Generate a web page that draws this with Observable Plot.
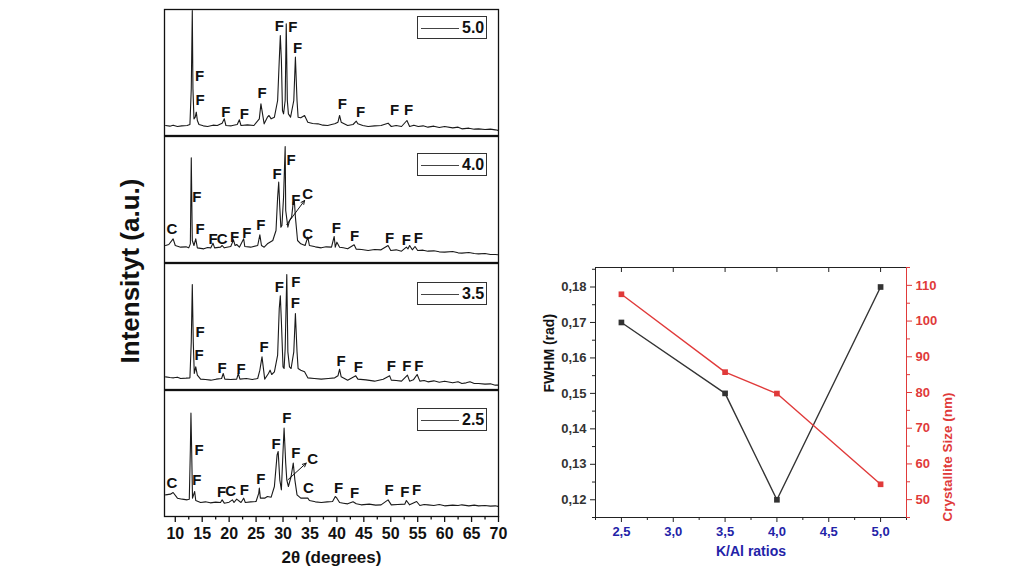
<!DOCTYPE html>
<html>
<head>
<meta charset="utf-8">
<script src="https://cdn.jsdelivr.net/npm/d3@7"></script>
<script src="https://cdn.jsdelivr.net/npm/@observablehq/plot@0.6"></script>
<style>
  html, body { margin: 0; padding: 0; background: #fff; }
  body { width: 1024px; height: 576px; position: relative; overflow: hidden; font-family: "Liberation Sans", Arial, sans-serif; }
  .abs { position: absolute; }
  .legend { position: absolute; width: 70px; height: 23px; border: 1px solid #333; background: #fff; box-sizing: border-box; }
  .legend .ln { position: absolute; left: 3px; top: 11px; width: 38px; height: 0; border-top: 1px solid #444; }
  .legend .tx { position: absolute; left: 44px; top: 2px; font: bold 16px "Liberation Sans", Arial, sans-serif; color: #111; }
  #ylab { position: absolute; left: 130px; top: 271px; transform: translate(-50%, -50%) rotate(-90deg); font: bold 26px "Liberation Sans", Arial, sans-serif; white-space: nowrap; color: #111; }
</style>
</head>
<body>
<script>
// ---------- XRD patterns: [2θ (deg), intensity (a.u.)] ----------
const ratios = ["5.0", "4.0", "3.5", "2.5"];

const pattern50 = [
  [8.2,30],[9.0,28],[9.6,31],[10.4,27],[11.2,29],[12.2,30],[12.72,33],[12.97,140],[13.16,375],[13.28,140],
  [13.47,50],[13.71,55],[13.9,70],[14.1,45],[14.4,33],[15.2,29],[16.0,27],[17.0,31],[17.8,30],[18.7,37],
  [19.1,50],[19.4,30],[20.4,29],[21.5,33],[21.9,47],[22.2,30],[23.4,32],[24.6,30],[25.6,50],[25.9,95],
  [26.2,65],[26.5,35],[27.1,55],[27.4,60],[27.8,50],[28.4,55],[29.0,105],[29.3,225],[29.5,300],[29.7,225],
  [29.9,75],[30.1,65],[30.4,105],[30.6,335],[30.8,105],[31.0,65],[31.4,55],[32.0,105],[32.3,235],[32.6,105],
  [32.8,55],[33.3,53],[34.0,60],[34.6,40],[35.5,36],[36.5,35],[37.4,31],[38.3,30],[39.0,33],[39.6,35],
  [40.2,40],[40.5,60],[40.8,40],[42.0,30],[43.0,33],[43.6,43],[43.9,35],[44.8,30],[45.8,27],[47.0,29],
  [48.2,30],[49.5,37],[50.1,27],[51.0,30],[52.0,27],[53.0,45],[53.5,27],[54.3,31],[55.1,27],[56.0,29],
  [56.9,25],[58.0,28],[59.0,24],[60.0,27],[61.5,23],[62.5,25],[63.2,20],[64.5,22],[65.5,19],[66.3,20],
  [67.5,18],[68.5,19],[69.4,17],[70.0,15]
];
const pattern40 = [
  [8.2,51],[8.8,54],[9.6,71],[10.0,51],[11.0,46],[12.0,47],[12.5,44],[12.8,56],[12.97,314],[13.16,66],
  [13.47,51],[13.8,71],[14.1,44],[15.3,41],[16.0,45],[16.6,44],[17.0,58],[17.3,44],[18.4,46],[18.7,51],
  [19.1,44],[20.3,48],[20.8,68],[21.1,51],[21.4,54],[21.9,46],[22.7,71],[22.9,48],[24.0,46],[25.3,51],
  [25.7,83],[26.0,51],[26.5,46],[27.1,56],[28.1,66],[28.7,96],[29.0,196],[29.2,241],[29.4,166],[29.6,106],
  [29.8,111],[30.1,196],[30.4,348],[30.5,156],[30.9,106],[31.2,126],[31.6,136],[31.9,181],[32.1,186],[32.3,136],
  [32.7,66],[33.3,56],[34.1,51],[34.6,76],[34.9,51],[36.0,47],[37.1,44],[38.0,47],[39.0,46],[39.5,78],
  [39.7,46],[40.0,61],[40.5,46],[41.2,44],[42.0,41],[43.2,53],[43.6,40],[44.6,39],[45.8,36],[47.0,39],
  [48.2,38],[49.5,51],[50.0,36],[51.0,38],[52.0,34],[52.9,46],[53.2,41],[53.5,51],[54.0,38],[54.5,48],
  [55.0,36],[56.0,37],[56.9,34],[58.0,35],[59.0,32],[60.0,31],[61.5,33],[62.5,29],[63.2,28],[64.5,30],
  [65.5,27],[66.3,26],[67.5,27],[68.5,24],[69.4,24],[70.0,23]
];
const pattern35 = [
  [8.2,38],[9.0,36],[9.7,35],[10.4,37],[11.0,33],[12.0,34],[12.72,35],[12.97,143],[13.16,315],[13.34,143],
  [13.53,48],[13.8,68],[14.1,43],[14.7,31],[15.6,30],[16.6,28],[17.6,31],[18.6,33],[18.9,48],[19.2,31],
  [20.3,30],[21.4,31],[21.7,48],[22.0,31],[23.2,33],[24.3,30],[25.3,33],[25.7,58],[26.1,98],[26.4,58],
  [26.6,31],[27.3,48],[27.6,58],[27.9,45],[28.4,53],[29.0,103],[29.3,243],[29.5,281],[29.7,203],[30.0,68],
  [30.2,63],[30.4,123],[30.7,345],[30.9,113],[31.2,68],[31.5,63],[32.0,113],[32.3,228],[32.6,113],[32.8,63],
  [33.3,58],[34.0,53],[34.6,35],[35.8,33],[37.1,31],[38.4,33],[39.6,35],[40.2,41],[40.5,61],[40.8,38],
  [42.0,28],[43.5,41],[43.9,31],[45.4,29],[47.0,25],[48.6,31],[49.8,41],[50.1,28],[51.0,27],[52.0,25],
  [53.1,43],[53.5,25],[54.2,29],[54.9,45],[55.4,25],[56.2,27],[56.9,23],[58.0,26],[59.0,22],[60.0,25],
  [61.5,20],[62.5,23],[63.2,18],[64.0,20],[64.7,23],[65.5,18],[66.3,18],[67.5,16],[68.5,17],[69.4,13],[70.0,13]
];
const pattern25 = [
  [8.2,65],[9.1,67],[9.6,72],[10.4,55],[11.3,52],[12.2,50],[12.6,52],[12.8,202],[12.91,310],[13.03,210],
  [13.2,55],[13.6,75],[13.8,48],[14.7,42],[15.6,44],[16.5,41],[17.5,43],[18.4,42],[18.7,50],[19.1,40],
  [20.0,43],[20.6,50],[20.9,42],[21.4,52],[22.2,42],[22.7,55],[23.0,42],[24.0,44],[25.0,45],[25.5,70],
  [25.6,85],[25.8,55],[26.6,55],[27.1,60],[27.8,58],[28.4,90],[28.9,185],[29.1,195],[29.4,110],[29.7,80],
  [30.0,195],[30.2,265],[30.5,160],[30.7,110],[31.0,90],[31.5,120],[31.9,160],[32.2,110],[32.6,65],[33.3,55],
  [34.6,55],[34.9,48],[36.0,44],[37.1,42],[38.2,44],[39.2,45],[39.7,60],[40.0,55],[40.5,42],[41.2,40],
  [42.0,38],[43.0,44],[43.6,38],[44.5,35],[46.0,37],[47.2,34],[48.2,35],[49.5,50],[50.1,35],[51.3,36],
  [52.6,37],[52.9,48],[53.5,35],[54.8,45],[55.4,33],[56.2,36],[56.9,35],[58.0,33],[59.0,36],[60.0,32],
  [61.5,34],[62.5,33],[63.2,35],[64.5,32],[65.5,34],[66.3,32],[67.5,33],[68.5,31],[69.4,32],[70.0,30]
];
const patterns = [pattern50, pattern40, pattern35, pattern25];

// phase labels: [2θ, intensity, phase]
const labels50 = [
  [14.5,177,"F"],[14.6,105,"F"],[19.4,69,"F"],[22.8,65,"F"],[26.1,127,"F"],[29.3,327,"F"],[31.8,325,"F"],
  [32.7,263,"F"],[41.0,93,"F"],[44.4,70,"F"],[50.7,75,"F"],[53.3,75,"F"]
];
const labels40 = [
  [9.4,99,"C"],[14.0,196,"F"],[14.6,99,"F"],[17.0,71,"F"],[18.7,71,"C"],[21.0,76,"F"],[23.3,88,"F"],
  [25.9,111,"F"],[28.9,266,"F"],[31.5,308,"F"],[32.4,188,"F"],[34.6,206,"C"],[34.6,84,"C"],[39.9,104,"F"],
  [43.3,78,"F"],[49.8,74,"F"],[52.9,68,"F"],[55.1,74,"F"]
];
const labels35 = [
  [14.6,173,"F"],[14.4,103,"F"],[18.7,63,"F"],[22.2,61,"F"],[26.5,128,"F"],[29.3,308,"F"],[32.4,321,"F"],
  [32.3,258,"F"],[40.8,85,"F"],[44.0,68,"F"],[50.1,71,"F"],[53.0,71,"F"],[55.2,71,"F"]
];
const labels25 = [
  [9.4,100,"C"],[14.4,200,"F"],[14.0,110,"F"],[18.6,73,"F"],[20.3,75,"C"],[22.8,80,"F"],[25.9,113,"F"],
  [28.7,218,"F"],[30.7,295,"F"],[32.4,190,"F"],[35.5,173,"C"],[34.7,85,"C"],[40.3,85,"F"],[43.3,70,"F"],
  [49.7,78,"F"],[52.6,72,"F"],[54.8,78,"F"]
];
const labelSets = [labels50, labels40, labels35, labels25];

// arrows: [2θ1, I1, 2θ2, I2]
const arrows40 = [[30.7,114,34.0,186]];
const arrows25 = [[30.9,110,34.3,160]];
const arrowSets = [[], arrows40, [], arrows25];

const xrdTicks = d3.range(10, 71, 5);
const xrdMinor = d3.range(12.5, 70, 5);

// ---------- Right chart data ----------
const kAl = [2.5, 3.5, 4.0, 5.0];
const fwhm = [0.17, 0.15, 0.12, 0.18];
const crystalSize = [107.5, 85.7, 79.7, 54.3];
const kAlTicks = [2.5, 3.0, 3.5, 4.0, 4.5, 5.0];
const kAlMinor = [2.25, 2.75, 3.25, 3.75, 4.25, 4.75, 5.25];
const fwhmTicks = [0.12, 0.13, 0.14, 0.15, 0.16, 0.17, 0.18];
const fwhmMinor = [0.115, 0.125, 0.135, 0.145, 0.155, 0.165, 0.175, 0.185];
const sizeTicks = [50, 60, 70, 80, 90, 100, 110];
const sizeMinor = [45, 55, 65, 75, 85, 95, 105, 115];

// ---------- Layout ----------
const FONT = '"Liberation Sans", Arial, sans-serif';
const panelLeft = 163, panelW = 336, panelH = 128;
const panelTops = [8, 135, 262, 389];
const legendTops = [16, 153, 282, 408];

function place(el, left, top) {
  const d = document.createElement("div");
  d.className = "abs";
  d.style.left = left + "px";
  d.style.top = top + "px";
  d.appendChild(el);
  document.body.appendChild(d);
  return d;
}

patterns.forEach((data, i) => {
  const bottom = i === patterns.length - 1;
  const marks = [
    Plot.line(data, {x: d => d[0], y: d => d[1], stroke: "#1a1a1a", strokeWidth: 1.1, clip: true}),
    Plot.arrow(arrowSets[i], {x1: d => d[0], y1: d => d[1], x2: d => d[2], y2: d => d[3], stroke: "#111", strokeWidth: 1, headLength: 6, headAngle: 50}),
    Plot.text(labelSets[i], {x: d => d[0], y: d => d[1], text: d => d[2], fontSize: 15, fontWeight: "bold", fill: "#111", fontFamily: FONT}),
    Plot.frame({stroke: "#111", strokeWidth: 1.3})
  ];
  if (bottom) {
    marks.push(
      Plot.axisX({ticks: xrdTicks, tickSize: 6, tickPadding: 5, fontSize: 16, fontWeight: "bold", fill: "#111", stroke: "#111", strokeWidth: 1.3, label: null, tickFormat: d => String(d)}),
      Plot.axisX({ticks: xrdMinor, tickSize: 3.5, text: null, label: null, stroke: "#111", strokeWidth: 1.3}),
      Plot.text(["2θ (degrees)"], {text: d => d, frameAnchor: "bottom", dy: 46, fontSize: 17, fontWeight: "bold", fill: "#111", fontFamily: FONT})
    );
  }
  const chart = Plot.plot({
    width: panelW,
    height: panelH + (bottom ? 58 : 0),
    marginLeft: 1, marginRight: 1, marginTop: 1, marginBottom: bottom ? 59 : 1,
    x: {domain: [8, 70], axis: null},
    y: {domain: [0, 378], axis: null},
    style: {fontFamily: FONT, background: "transparent", overflow: "visible"},
    marks
  });
  place(chart, panelLeft, panelTops[i]);

  const lg = document.createElement("div");
  lg.className = "legend";
  lg.style.left = "417px";
  lg.style.top = legendTops[i] + "px";
  lg.innerHTML = '<div class="ln"></div><div class="tx">' + ratios[i] + '</div>';
  document.body.appendChild(lg);
});

const ylab = document.createElement("div");
ylab.id = "ylab";
ylab.textContent = "Intensityt (a.u.)";
document.body.appendChild(ylab);

// ---------- Right chart ----------
const RED = "#e03a3a", DARK = "#333", BLUE = "#2323a8";
const comma = (dec) => d => d.toFixed(dec).replace(".", ",");
const rW = 440, rH = 305;
const rMargins = {marginLeft: 65, marginRight: 64, marginTop: 12, marginBottom: 43};
const xDom = [2.25, 5.25];

const fwData = kAl.map((k, i) => ({k, v: fwhm[i]}));
const csData = kAl.map((k, i) => ({k, v: crystalSize[i]}));

const left = Plot.plot({
  width: rW, height: rH, ...rMargins,
  x: {domain: xDom, axis: null},
  y: {domain: [0.115, 0.1855], axis: null},
  style: {fontFamily: FONT, fontWeight: "bold", fontSize: "13px", overflow: "visible"},
  marks: [
    Plot.frame({stroke: "#222", strokeWidth: 1}),
    Plot.axisX({ticks: kAlTicks, tickSize: 5, tickPadding: 4, tickFormat: comma(1), color: BLUE, stroke: "#222", fontSize: 13, fontWeight: "bold", label: null}),
    Plot.axisX({ticks: kAlMinor, tickSize: 3, text: null, label: null, stroke: "#222"}),
    Plot.axisX({anchor: "top", ticks: kAlTicks, tickSize: -4, text: null, label: null, stroke: "#222"}),
    Plot.axisY({ticks: fwhmTicks, tickSize: 5, tickPadding: 4, tickFormat: comma(2), fill: DARK, stroke: "#222", fontSize: 13, fontWeight: "bold", label: null}),
    Plot.axisY({ticks: fwhmMinor.filter(v => v < 0.1855), tickSize: 3, text: null, label: null, stroke: "#222"}),
    Plot.text(["FWHM (rad)"], {text: d => d, frameAnchor: "left", dx: -46, rotate: -90, fontSize: 14, fontWeight: "bold", fill: "#111"}),
    Plot.text(["K/Al ratios"], {text: d => d, frameAnchor: "bottom", dy: 38, fontSize: 14, fontWeight: "bold", fill: BLUE}),
    Plot.line(fwData, {x: "k", y: "v", stroke: DARK, strokeWidth: 1.4}),
    Plot.dot(fwData, {x: "k", y: "v", symbol: "square", r: 3.2, fill: DARK, stroke: null})
  ]
});
place(left, 530, 255);

const right = Plot.plot({
  width: rW, height: rH, ...rMargins,
  x: {domain: xDom, axis: null},
  y: {domain: [45, 115], axis: null},
  style: {fontFamily: FONT, fontWeight: "bold", fontSize: "13px", background: "transparent", overflow: "visible"},
  marks: [
    Plot.frame({anchor: "right", stroke: RED, strokeWidth: 1}),
    Plot.axisY({anchor: "right", ticks: sizeTicks, tickSize: 5, tickPadding: 4, color: RED, fontSize: 13, fontWeight: "bold", label: null}),
    Plot.axisY({anchor: "right", ticks: sizeMinor, tickSize: 3, text: null, label: null, stroke: RED}),
    Plot.text(["Crystallite Size (nm)"], {text: d => d, frameAnchor: "right", dx: 41, rotate: -90, fontSize: 13.5, fontWeight: "bold", fill: RED}),
    Plot.line(csData, {x: "k", y: "v", stroke: RED, strokeWidth: 1.4}),
    Plot.dot(csData, {x: "k", y: "v", symbol: "square", r: 3.2, fill: RED, stroke: null})
  ]
});
place(right, 530, 255);
</script>
</body>
</html>
